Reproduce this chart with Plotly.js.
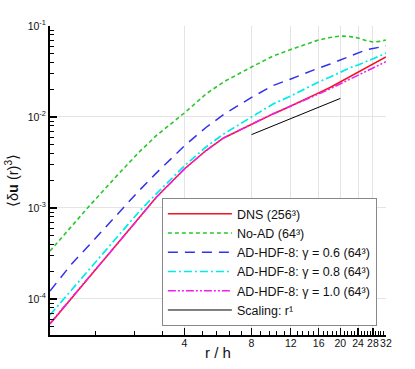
<!DOCTYPE html>
<html>
<head>
<meta charset="utf-8">
<script src="https://cdn.plot.ly/plotly-3.0.1.min.js"></script>
<style>
  html, body { margin: 0; padding: 0; background: #fff; }
  #myDiv { width: 415px; height: 369px; }
</style>
</head>
<body>
<div id="myDiv"></div>
<script>
    // r / h
    let r = [1, 1.25, 1.5, 2, 2.5, 3, 4, 5, 6, 8, 10, 12, 14, 16, 18, 20, 22, 24, 26, 28, 30, 32];

    let dns = [5.31e-5, 1.025e-4, 1.745e-4, 4.02e-4, 7.76e-4, 1.32e-3, 2.68e-3, 4.28e-3, 5.88e-3, 8.37e-3,
               1.08e-2, 1.32e-2, 1.56e-2, 1.84e-2, 2.11e-2, 2.43e-2, 2.75e-2, 3.09e-2, 3.45e-2, 3.82e-2, 4.18e-2, 4.56e-2];
    let noAD = [3.37e-4, 6.34e-4, 1.05e-3, 2.28e-3, 4.08e-3, 6.27e-3, 1.106e-2, 1.79e-2, 2.43e-2, 3.54e-2,
                4.68e-2, 5.52e-2, 6.34e-2, 7.02e-2, 7.48e-2, 7.76e-2, 7.67e-2, 7.38e-2, 6.93e-2, 6.67e-2, 6.77e-2, 7.02e-2];
    let g06 = [1.225e-4, 2.43e-4, 3.92e-4, 8.59e-4, 1.54e-3, 2.43e-3, 4.81e-3, 7.67e-3, 1.066e-2, 1.64e-2,
               2.22e-2, 2.62e-2, 3.05e-2, 3.45e-2, 3.82e-2, 4.23e-2, 4.68e-2, 5.05e-2, 5.45e-2, 5.66e-2, 5.88e-2, 6.03e-2];
    let g08 = [6.67e-5, 1.26e-4, 2.11e-4, 4.74e-4, 9.04e-4, 1.44e-3, 2.90e-3, 4.68e-3, 6.50e-3, 1.0e-2,
               1.39e-2, 1.70e-2, 2.08e-2, 2.43e-2, 2.75e-2, 3.13e-2, 3.46e-2, 3.73e-2, 4.02e-2, 4.34e-2, 4.68e-2, 5.05e-2];
    let g10 = [5.4e-5, 1.04e-4, 1.76e-4, 4.0e-4, 7.7e-4, 1.31e-3, 2.67e-3, 4.27e-3, 5.9e-3, 8.43e-3,
               1.09e-2, 1.32e-2, 1.54e-2, 1.79e-2, 2.04e-2, 2.32e-2, 2.6e-2, 2.9e-2, 3.2e-2, 3.5e-2, 3.78e-2, 4.05e-2];

    // reference slope r^1
    let r_scal = [8, 20];
    let scal = [6.4e-3, 1.6e-2];

    let xTicks = [4, 8, 12, 16, 20, 24, 28, 32];
    let yTicks = [1e-4, 1e-3, 1e-2, 1e-1];
    let yTickText = ['10<sup>-4</sup>', '10<sup>-3</sup>', '10<sup>-2</sup>', '10<sup>-1</sup>'];

    // minor ticks: every 0.8 on x, 2..9 per decade on y
    let xMinor = [];
    for (let i = 2; i < 40; i++) {
        let k = Math.round(i * 8) / 10;
        if (i % 5 !== 0) xMinor.push(k);
    }
    let yMinor = [];
    for (let e = -5; e <= -2; e++) {
        for (let d = 2; d <= 9; d++) yMinor.push(d * Math.pow(10, e));
    }

    let font = 'Arial, "Liberation Sans", sans-serif';
    let xRange = [0, Math.log10(32) + 0.0005];
    let yRange = [-4.396, -1];

    let traces = [
        {x: r, y: dns, name: 'DNS (256\u00b3)', mode: 'lines',
         line: {color: 'rgb(240,20,30)', width: 1.5}},
        {x: r, y: noAD, name: 'No-AD (64\u00b3)', mode: 'lines',
         line: {color: 'rgb(40,200,40)', width: 1.6, dash: '4px,3px'}},
        {x: r, y: g06, name: 'AD-HDF-8: \u03b3 = 0.6 (64\u00b3)', mode: 'lines',
         line: {color: 'rgb(50,50,235)', width: 1.5, dash: '10px,7px'}},
        {x: r, y: g08, name: 'AD-HDF-8: \u03b3 = 0.8 (64\u00b3)', mode: 'lines',
         line: {color: 'rgb(0,235,235)', width: 1.7, dash: '8px,3px,2px,3px'}},
        {x: r, y: g10, name: 'AD-HDF-8: \u03b3 = 1.0 (64\u00b3)', mode: 'lines',
         line: {color: 'rgb(240,30,240)', width: 1.5, dash: '8px,2px,2px,2px,2px,2px'}},
        {x: r_scal, y: scal, name: 'Scaling: r\u00b9', mode: 'lines',
         line: {color: 'black', width: 1}},
        // carrier for the minor-tick axes
        {x: [r[0]], y: [dns[0]], xaxis: 'x2', yaxis: 'y2', mode: 'markers',
         marker: {opacity: 0}, showlegend: false, hoverinfo: 'skip'}
    ];

    let layout = {
        width: 415,
        height: 369,
        margin: {l: 50, r: 29, t: 26, b: 34},
        paper_bgcolor: 'white',
        plot_bgcolor: 'white',
        font: {family: font, color: '#111', size: 10},
        showlegend: true,
        legend: {
            x: 0.333, y: 0.443, xanchor: 'left', yanchor: 'top',
            bgcolor: 'white', bordercolor: '#888', borderwidth: 1,
            font: {family: font, size: 12.5, color: '#111'},
            itemwidth: 64
        },
        xaxis: {
            type: 'log',
            range: xRange,
            tickmode: 'array',
            tickvals: xTicks,
            ticktext: xTicks.map(String),
            tickangle: 0,
            ticks: 'inside', ticklen: 7, tickwidth: 1.2, tickcolor: '#000',
            ticklabelstandoff: -3,
            showline: true, linecolor: '#000', linewidth: 2,
            showgrid: true, gridcolor: '#e4e4e4', gridwidth: 1,
            zeroline: false,
            tickfont: {size: 10.5},
            title: {text: 'r / h', font: {size: 15}, standoff: 0}
        },
        yaxis: {
            type: 'log',
            range: yRange,
            tickmode: 'array',
            tickvals: yTicks,
            ticktext: yTickText,
            ticks: 'inside', ticklen: 7, tickwidth: 1.5, tickcolor: '#000',
            showline: true, linecolor: '#000', linewidth: 2,
            showgrid: true, gridcolor: '#e4e4e4', gridwidth: 1,
            zeroline: false,
            tickfont: {size: 10.5},
            title: {text: '\u27e8\u03b4<b>u</b> (r)<sup>3</sup>\u27e9', font: {size: 14.5}, standoff: 6}
        },
        xaxis2: {
            type: 'log', range: xRange, overlaying: 'x', anchor: 'y', side: 'bottom',
            tickmode: 'array', tickvals: xMinor, showticklabels: false,
            ticks: 'inside', ticklen: 4, tickwidth: 1, tickcolor: '#000',
            showgrid: false, showline: false, zeroline: false
        },
        yaxis2: {
            type: 'log', range: yRange, overlaying: 'y', anchor: 'x', side: 'left',
            tickmode: 'array', tickvals: yMinor, showticklabels: false,
            ticks: 'inside', ticklen: 4, tickwidth: 1, tickcolor: '#000',
            showgrid: false, showline: false, zeroline: false
        }
    };

    Plotly.newPlot("myDiv", traces, layout, {staticPlot: true});
</script>
</body>
</html>
